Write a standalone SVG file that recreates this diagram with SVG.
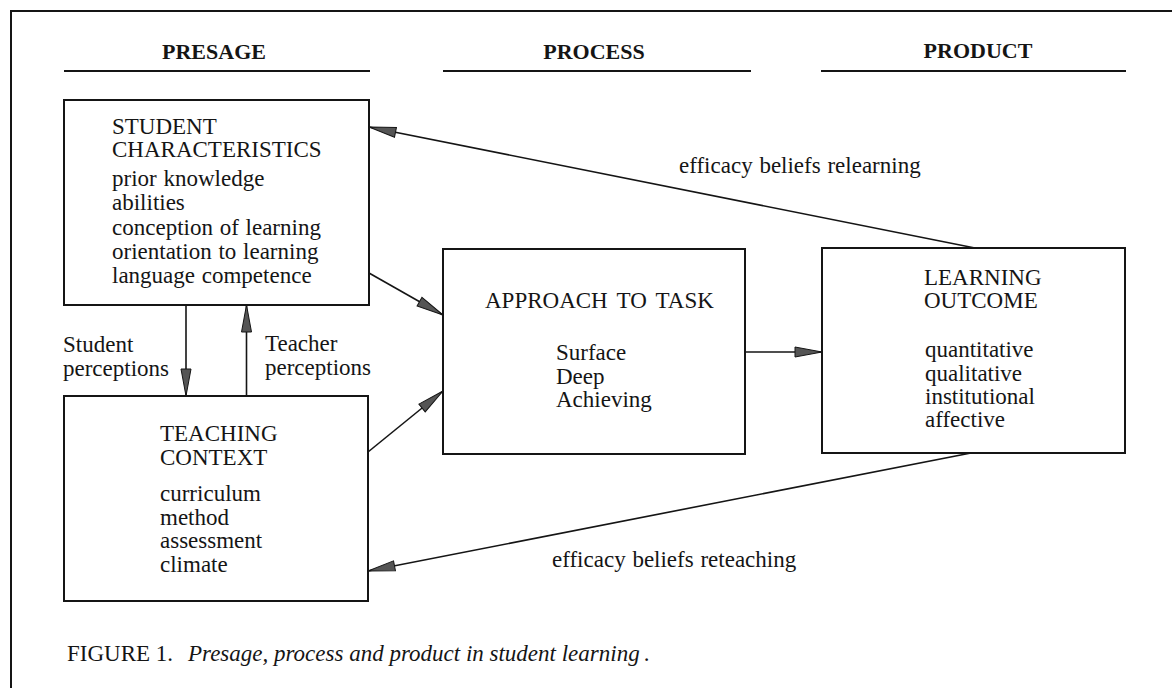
<svg xmlns="http://www.w3.org/2000/svg" width="1172" height="688" viewBox="0 0 1172 688">
<style>
text{font-family:"Liberation Serif","Times New Roman",serif;font-size:23px;fill:#151515;word-spacing:1px}
.h{font-size:22px;font-weight:bold;text-anchor:middle;word-spacing:0}
.w{word-spacing:3.5px}
.box{fill:none;stroke:#151515;stroke-width:2}
.ln{fill:none;stroke:#151515;stroke-width:1.6}
.rule{fill:none;stroke:#151515;stroke-width:2}
</style>
<defs>
<marker id="ah" markerUnits="userSpaceOnUse" markerWidth="32" markerHeight="14" refX="28" refY="6" orient="auto">
<path d="M1,1 L28,6 L1,11 z" fill="#555" stroke="#151515" stroke-width="1"/>
</marker>
</defs>
<rect width="1172" height="688" fill="#fff"/>
<g id="frame">
<path d="M11,688 V11 H1172" class="rule"/>
</g>
<g id="headers">
<text class="h" x="214" y="59">PRESAGE</text>
<text class="h" x="594" y="59">PROCESS</text>
<text class="h" x="978" y="58">PRODUCT</text>
<line x1="64" y1="71" x2="370" y2="71" class="rule"/>
<line x1="443" y1="71" x2="751" y2="71" class="rule"/>
<line x1="821" y1="71" x2="1126" y2="71" class="rule"/>
</g>
<g id="student">
<rect x="64" y="100" width="305" height="205" class="box"/>
<text x="112" y="134">STUDENT</text>
<text x="112" y="157">CHARACTERISTICS</text>
<text x="112" y="186">prior knowledge</text>
<text x="112" y="210">abilities</text>
<text x="112" y="235">conception of learning</text>
<text x="112" y="259">orientation to learning</text>
<text x="112" y="283">language competence</text>
</g>
<g id="teaching">
<rect x="64" y="396" width="304" height="205" class="box"/>
<text x="160" y="441">TEACHING</text>
<text x="160" y="465">CONTEXT</text>
<text x="160" y="501">curriculum</text>
<text x="160" y="525">method</text>
<text x="160" y="548">assessment</text>
<text x="160" y="572">climate</text>
</g>
<g id="approach">
<rect x="443" y="249" width="302" height="205" class="box"/>
<text class="w" x="485" y="308">APPROACH TO TASK</text>
<text x="556" y="360">Surface</text>
<text x="556" y="384">Deep</text>
<text x="556" y="407">Achieving</text>
</g>
<g id="outcome">
<rect x="822" y="248" width="303" height="205" class="box"/>
<text x="924" y="285">LEARNING</text>
<text x="924" y="308">OUTCOME</text>
<text x="925" y="357">quantitative</text>
<text x="925" y="381">qualitative</text>
<text x="925" y="404">institutional</text>
<text x="925" y="427">affective</text>
</g>
<g id="connectors">
<line x1="369" y1="273" x2="443" y2="315" class="ln" marker-end="url(#ah)"/>
<line x1="368" y1="452" x2="443" y2="391" class="ln" marker-end="url(#ah)"/>
<line x1="745" y1="352" x2="822" y2="352" class="ln" marker-end="url(#ah)"/>
<line x1="975" y1="248" x2="369" y2="127" class="ln" marker-end="url(#ah)"/>
<line x1="971" y1="453" x2="368" y2="571" class="ln" marker-end="url(#ah)"/>
<line x1="186" y1="305" x2="186" y2="396" class="ln" marker-end="url(#ah)"/>
<line x1="246.5" y1="396" x2="246.5" y2="305" class="ln" marker-end="url(#ah)"/>
</g>
<g id="labels">
<text x="63" y="352">Student</text>
<text x="63" y="376">perceptions</text>
<text x="265" y="351">Teacher</text>
<text x="265" y="375">perceptions</text>
<text x="679" y="173">efficacy beliefs relearning</text>
<text x="552" y="567">efficacy beliefs reteaching</text>
</g>
<g id="caption">
<text x="67" y="661" style="word-spacing:0">FIGURE 1.<tspan x="188" font-style="italic">Presage, process and product in student learning</tspan><tspan dx="4">.</tspan></text>
</g>
</svg>
